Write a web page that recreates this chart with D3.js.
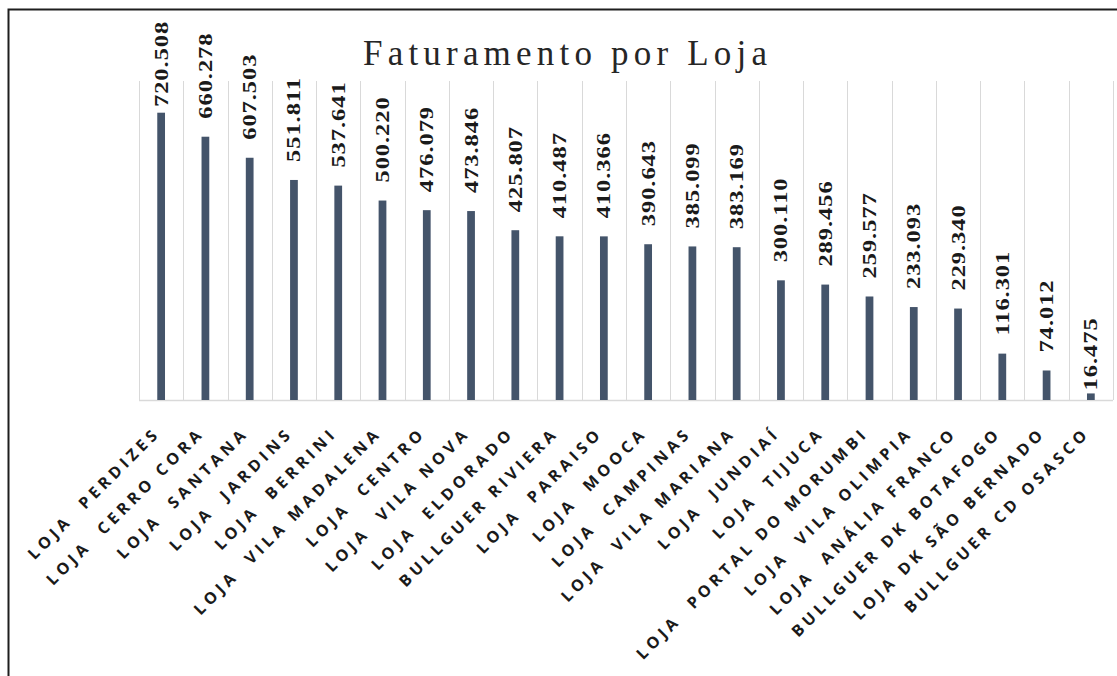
<!DOCTYPE html>
<html>
<head>
<meta charset="utf-8">
<script src="https://cdn.jsdelivr.net/npm/d3@7"></script>
<style>
  html, body { margin: 0; padding: 0; background: #fff; overflow: hidden; }
  svg text { white-space: pre; }
</style>
</head>
<body>
<div id="chart"></div>
<script>
const lojas = [
  'LOJA  PERDIZES', 'LOJA  CERRO CORA', 'LOJA  SANTANA', 'LOJA  JARDINS',
  'LOJA  BERRINI', 'LOJA  VILA MADALENA', 'LOJA  CENTRO', 'LOJA  VILA NOVA',
  'LOJA  ELDORADO', 'BULLGUER RIVIERA', 'LOJA  PARAISO', 'LOJA  MOOCA',
  'LOJA  CAMPINAS', 'LOJA  VILA MARIANA', 'LOJA  JUNDIAÍ', 'LOJA  TIJUCA',
  'LOJA  PORTAL DO MORUMBI', 'LOJA  VILA OLIMPIA', 'LOJA  ANÁLIA FRANCO',
  'BULLGUER DK BOTAFOGO', 'LOJA DK SÃO BERNADO', 'BULLGUER CD OSASCO'
];
const faturamento = [
  720508, 660278, 607503, 551811, 537641, 500220, 476079, 473846,
  425807, 410487, 410366, 390643, 385099, 383169, 300110, 289456,
  259577, 233093, 229340, 116301, 74012, 16475
];
const titulo = 'Faturamento por Loja';
const yMax = 800000;

const width = 1117, height = 676;

const br = d3.formatLocale({decimal: ',', thousands: '.', grouping: [3], currency: ['R$', '']});
const fmt = br.format(',d');

const data = lojas.map((d, i) => ({loja: d, valor: faturamento[i]}));

const svg = d3.select('#chart')
  .append('svg')
  .attr('width', width)
  .attr('height', height)
  .attr('xml:space', 'preserve');

// moldura
svg.append('rect')
  .attr('x', 8.5).attr('y', 9.5)
  .attr('width', 1200).attr('height', 800)
  .attr('fill', 'none')
  .attr('stroke', '#1e1e1e')
  .attr('stroke-width', 2);

const x = d3.scaleBand()
  .domain(lojas)
  .range([139, 1113])
  .padding(0);

const y = d3.scaleLinear()
  .domain([0, yMax])
  .range([400, 81]);

// linhas verticais entre categorias
const bordas = lojas.map(d => x(d)).concat([x.range()[1]]);
svg.append('g')
  .selectAll('line')
  .data(bordas)
  .join('line')
  .attr('x1', d => Math.round(d) + 0.5)
  .attr('x2', d => Math.round(d) + 0.5)
  .attr('y1', y(yMax))
  .attr('y2', y(0))
  .attr('stroke', '#d9d9d9')
  .attr('stroke-width', 1);

// eixo
svg.append('line')
  .attr('x1', 139).attr('x2', 1113)
  .attr('y1', y(0) + 0.5).attr('y2', y(0) + 0.5)
  .attr('stroke', '#d9d9d9')
  .attr('stroke-width', 1.5);

const barW = x.bandwidth() * 0.175;

svg.append('g')
  .selectAll('rect')
  .data(data)
  .join('rect')
  .attr('x', d => x(d.loja) + x.bandwidth() / 2 - barW / 2)
  .attr('y', d => y(d.valor))
  .attr('width', barW)
  .attr('height', d => y(0) - y(d.valor))
  .attr('fill', '#44546a');

// rótulos de valor (esticados no sentido do texto, como no original)
const labelLen = 87;
svg.append('g')
  .selectAll('text')
  .data(data)
  .join('text')
  .attr('transform', d => {
    const cx = x(d.loja) + x.bandwidth() / 2;
    const h = y(0) - y(d.valor);
    let base = y(d.valor) - (h < 10 ? 3 : 18);
    if (base - labelLen < 20) base = 20 + labelLen;
    return `translate(${cx + 6.5},${base}) rotate(-90) scale(1.36,1.05)`;
  })
  .attr('font-family', '"Liberation Serif", "DejaVu Serif", serif')
  .attr('font-weight', 'bold')
  .attr('font-size', 18)
  .attr('letter-spacing', 0.7)
  .attr('fill', '#1a1a1a')
  .text(d => fmt(d.valor));

// rótulos das categorias
const ls = 4.2;
svg.append('g')
  .selectAll('text')
  .data(data)
  .join('text')
  .attr('transform', d => {
    const cx = x(d.loja) + x.bandwidth() / 2;
    return `translate(${cx - 3 + ls * 0.707},${437 - ls * 0.707}) rotate(-45)`;
  })
  .attr('text-anchor', 'end')
  .attr('font-family', '"Open Sans", sans-serif')
  .attr('font-weight', 'bold')
  .attr('font-size', 16)
  .attr('letter-spacing', ls)
  .attr('fill', '#1a1a1a')
  .text(d => d.loja);

// título
svg.append('text')
  .attr('x', 363)
  .attr('y', 65)
  .attr('textLength', 404)
  .attr('lengthAdjust', 'spacing')
  .attr('font-family', '"Liberation Serif", serif')
  .attr('font-size', 35)
  .attr('fill', '#262626')
  .text(titulo);
</script>
</body>
</html>
